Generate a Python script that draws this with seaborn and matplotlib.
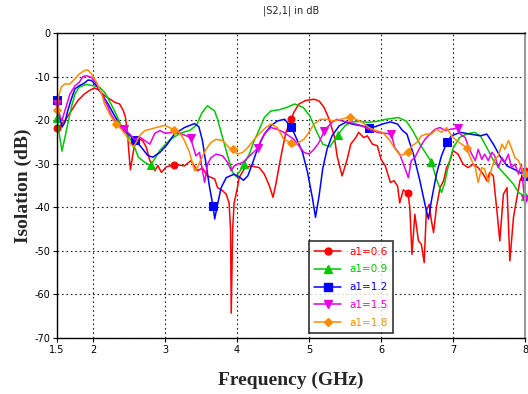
import numpy as np
import matplotlib
matplotlib.use("Agg")
import matplotlib.pyplot as plt
from matplotlib.lines import Line2D
import seaborn as sns

sns.set_theme(style="ticks")
plt.rcParams['font.family'] = ['DejaVu Sans']
plt.rcParams['axes.unicode_minus'] = False

# a1 = 0.6
freq_06 = [1.5, 1.55, 1.61, 1.70, 1.79, 1.88, 1.95, 2.02, 2.09, 2.16, 2.23, 2.30, 2.37, 2.42,
           2.45, 2.48, 2.50, 2.52, 2.57, 2.63, 2.69, 2.74, 2.79, 2.86, 2.90, 2.95, 3.02, 3.125,
           3.20, 3.27, 3.36, 3.45, 3.52, 3.59, 3.69, 3.73, 3.80, 3.85, 3.89, 3.91, 3.92, 3.94,
           3.96, 4.0, 4.03, 4.10, 4.19, 4.31, 4.38, 4.45, 4.50, 4.54, 4.59, 4.63, 4.68, 4.75,
           4.79, 4.86, 4.95, 5.07, 5.14, 5.21, 5.28, 5.35, 5.39, 5.46, 5.53, 5.58, 5.65, 5.69,
           5.76, 5.81, 5.88, 5.95, 6.0, 6.06, 6.13, 6.18, 6.23, 6.26, 6.31, 6.375, 6.40, 6.43,
           6.47, 6.52, 6.56, 6.60, 6.63, 6.67, 6.70, 6.73, 6.77, 6.82, 6.87, 6.91, 6.96, 7.0,
           7.07, 7.14, 7.21, 7.28, 7.35, 7.42, 7.47, 7.51, 7.56, 7.61, 7.65, 7.70, 7.75, 7.79,
           7.84, 7.88, 7.93, 8.0]
db_06 = [-21.9, -21.2, -20.1, -17.8, -15.5, -14.0, -13.2, -12.6, -13.2, -14.4, -15.1, -15.9, -16.3, -17.8,
         -19.3, -23.2, -27.7, -31.4, -26.2, -24.3, -24.7, -26.2, -29.3, -31.6, -30.4, -32.0, -30.7, -30.3,
         -30.3, -30.5, -29.3, -31.6, -31.0, -32.8, -33.5, -35.5, -36.2, -37.0, -39.0, -45.0, -64.3, -45.0,
         -39.0, -36.0, -33.2, -31.2, -30.5, -30.9, -32.4, -35.1, -37.7, -34.7, -30.1, -26.7, -22.8, -19.8,
         -18.2, -16.3, -15.5, -15.2, -15.6, -17.1, -19.8, -23.6, -28.2, -32.8, -29.0, -25.5, -24.0, -22.8,
         -24.0, -23.6, -25.5, -25.9, -29.0, -30.5, -34.3, -33.9, -35.1, -39.0, -36.0, -36.8, -40.0, -50.8,
         -41.6, -47.7, -48.5, -52.7, -40.8, -39.3, -43.1, -45.8, -40.0, -35.5, -33.9, -30.9, -29.3, -27.0,
         -27.8, -30.1, -30.9, -30.1, -30.9, -32.4, -33.9, -32.0, -32.8, -40.8, -47.7, -37.0, -35.5, -52.3,
         -42.3, -38.5, -33.9, -31.6]
marks_06 = [1.5, 3.125, 4.75, 6.375, 8.0]

# a1 = 0.9
freq_09 = [1.5, 1.53, 1.57, 1.63, 1.70, 1.75, 1.81, 1.91, 2.0, 2.09, 2.16, 2.25, 2.32, 2.39, 2.46,
           2.56, 2.63, 2.72, 2.8, 2.93, 3.07, 3.21, 3.35, 3.44, 3.51, 3.59, 3.69, 3.73, 3.80, 3.87,
           3.94, 3.99, 4.06, 4.1, 4.17, 4.24, 4.31, 4.38, 4.47, 4.59, 4.69, 4.80, 4.92, 5.01, 5.10,
           5.19, 5.29, 5.4, 5.50, 5.59, 5.70, 5.82, 5.94, 6.07, 6.24, 6.35, 6.44, 6.54, 6.63, 6.7,
           6.77, 6.84, 6.88, 6.93, 7.0, 7.09, 7.19, 7.30, 7.38, 7.46, 7.56, 7.65, 7.75, 7.84, 7.91, 8.0]
db_09 = [-19.5, -23.0, -27.1, -22.4, -17.0, -14.0, -12.4, -11.8, -12.1, -12.4, -13.6, -16.3, -18.6, -21.2, -22.8,
         -25.5, -28.5, -29.7, -30.4, -26.9, -24.5, -23.0, -22.3, -21.1, -18.4, -16.7, -17.9, -19.8, -24.0, -28.2,
         -32.0, -33.0, -31.2, -30.0, -27.8, -24.7, -22.1, -19.4, -17.9, -17.6, -17.1, -16.3, -17.1, -19.0, -22.4,
         -25.5, -26.1, -23.4, -21.3, -20.4, -20.3, -20.5, -20.3, -19.8, -19.4, -20.2, -22.4, -25.5, -27.8, -29.6,
         -33.5, -36.6, -34.7, -30.9, -26.5, -24.0, -23.2, -22.8, -23.6, -26.0, -29.2, -31.2, -33.0, -34.7, -36.6, -37.5]
marks_09 = [1.5, 2.8, 4.1, 5.4, 6.7, 8.0]

# a1 = 1.2
freq_12 = [1.5, 1.54, 1.57, 1.61, 1.65, 1.70, 1.75, 1.81, 1.88, 1.93, 1.98, 2.05, 2.12, 2.21, 2.30,
           2.39, 2.49, 2.5833, 2.67, 2.76, 2.83, 2.93, 3.02, 3.13, 3.27, 3.41, 3.47, 3.52, 3.57, 3.62,
           3.6667, 3.69, 3.73, 3.78, 3.85, 3.96, 4.03, 4.09, 4.15, 4.22, 4.29, 4.38, 4.47, 4.56, 4.66,
           4.75, 4.81, 4.91, 4.98, 5.05, 5.09, 5.14, 5.19, 5.25, 5.32, 5.42, 5.51, 5.60, 5.72, 5.8333,
           5.92, 6.02, 6.13, 6.23, 6.30, 6.36, 6.45, 6.54, 6.63, 6.66, 6.70, 6.77, 6.84, 6.9167, 6.98,
           7.10, 7.24, 7.38, 7.47, 7.56, 7.65, 7.75, 7.84, 7.93, 8.0]
db_12 = [-15.4, -19.3, -21.6, -20.5, -17.8, -15.1, -12.8, -12.1, -11.5, -10.8, -10.9, -12.1, -14.0, -16.3, -19.0,
         -21.6, -23.2, -24.5, -26.2, -28.1, -28.5, -27.4, -25.8, -23.2, -21.7, -20.8, -21.5, -24.7, -30.1, -35.5,
         -39.7, -42.7, -39.3, -35.5, -33.2, -32.4, -33.0, -33.8, -32.8, -29.7, -26.3, -23.2, -21.3, -20.2, -19.8,
         -21.5, -23.6, -27.4, -32.0, -38.1, -42.3, -37.4, -31.2, -26.7, -23.6, -21.3, -20.5, -20.9, -21.3, -21.7,
         -21.5, -20.9, -20.4, -20.9, -22.4, -23.2, -27.8, -33.9, -40.8, -42.7, -38.5, -32.4, -28.2, -25.0, -23.6,
         -22.8, -23.2, -23.6, -23.2, -25.5, -28.2, -30.5, -31.2, -32.0, -32.8]
marks_12 = [1.5, 2.5833, 3.6667, 4.75, 5.8333, 6.9167, 8.0]

# a1 = 1.5
freq_15 = [1.5, 1.54, 1.57, 1.61, 1.68, 1.75, 1.81, 1.86, 1.91, 1.98, 2.05, 2.12, 2.19, 2.25, 2.32,
           2.4286, 2.51, 2.58, 2.65, 2.72, 2.79, 2.86, 2.93, 3.0, 3.13, 3.22, 3.3571, 3.38, 3.43, 3.48,
           3.52, 3.55, 3.59, 3.64, 3.71, 3.80, 3.87, 3.92, 3.96, 4.01, 4.08, 4.15, 4.2857, 4.33, 4.40,
           4.47, 4.56, 4.65, 4.72, 4.79, 4.86, 4.93, 5.0, 5.07, 5.14, 5.2143, 5.25, 5.32, 5.39, 5.46,
           5.56, 5.65, 5.74, 5.83, 5.95, 6.1429, 6.19, 6.26, 6.33, 6.38, 6.42, 6.47, 6.54, 6.61, 6.68,
           6.75, 6.82, 6.89, 6.96, 7.0714, 7.10, 7.17, 7.21, 7.26, 7.31, 7.35, 7.40, 7.44, 7.49, 7.54,
           7.58, 7.63, 7.68, 7.72, 7.77, 7.81, 7.86, 7.91, 7.95, 7.98, 8.0]
db_15 = [-16.3, -19.3, -20.0, -17.8, -14.0, -12.1, -11.3, -10.0, -9.8, -10.2, -11.7, -14.0, -16.3, -18.6, -20.5,
         -22.0, -23.2, -24.5, -23.9, -24.7, -25.5, -23.0, -22.4, -23.0, -22.8, -23.1, -24.0, -25.5, -28.2, -27.4,
         -31.6, -34.3, -30.1, -28.6, -27.8, -28.2, -29.7, -31.6, -30.5, -30.1, -29.7, -28.6, -26.5, -24.7, -22.8,
         -21.7, -22.1, -22.8, -23.6, -24.4, -25.9, -27.4, -27.8, -26.7, -25.1, -22.4, -21.7, -20.5, -19.8, -20.2,
         -20.5, -20.9, -21.3, -22.1, -22.8, -23.2, -26.3, -27.8, -30.9, -33.2, -29.3, -28.6, -26.3, -24.4, -23.2,
         -22.1, -21.7, -22.4, -22.1, -21.8, -23.2, -24.0, -25.9, -27.8, -29.3, -26.7, -29.0, -27.8, -29.3, -27.4,
         -28.2, -30.9, -28.6, -29.7, -27.8, -30.9, -30.1, -32.4, -30.1, -36.0, -38.0]
marks_15 = [1.5, 2.4286, 3.3571, 4.2857, 5.2143, 6.1429, 7.0714, 8.0]

# a1 = 1.8
freq_18 = [1.5, 1.52, 1.56, 1.61, 1.68, 1.75, 1.81, 1.88, 1.93, 1.98, 2.05, 2.12, 2.16, 2.23, 2.3125,
           2.39, 2.46, 2.51, 2.56, 2.60, 2.65, 2.72, 2.81, 2.90, 3.0, 3.125, 3.20, 3.27, 3.34, 3.41,
           3.45, 3.50, 3.57, 3.64, 3.71, 3.80, 3.89, 3.9375, 4.01, 4.08, 4.15, 4.24, 4.33, 4.40, 4.47,
           4.56, 4.65, 4.75, 4.79, 4.86, 4.93, 5.0, 5.07, 5.16, 5.25, 5.35, 5.44, 5.5625, 5.65, 5.74,
           5.83, 5.93, 6.02, 6.11, 6.20, 6.27, 6.375, 6.43, 6.50, 6.56, 6.63, 6.70, 6.77, 6.84, 6.91,
           6.98, 7.05, 7.1875, 7.24, 7.31, 7.35, 7.40, 7.44, 7.49, 7.54, 7.58, 7.63, 7.68, 7.72, 7.77,
           7.81, 7.86, 7.91, 7.95, 8.0]
db_18 = [-17.7, -14.7, -12.4, -11.7, -11.7, -10.5, -9.4, -8.6, -8.5, -9.4, -11.3, -14.0, -16.3, -18.6, -20.8,
         -22.0, -23.5, -25.1, -26.2, -25.1, -23.5, -22.4, -22.0, -21.6, -21.2, -22.2, -22.8, -24.7, -27.4, -31.6,
         -30.9, -29.0, -26.7, -25.1, -24.4, -24.7, -26.3, -26.7, -27.8, -27.4, -26.3, -24.4, -22.8, -21.7, -20.9,
         -21.7, -24.4, -25.2, -25.9, -25.1, -24.4, -22.8, -20.9, -19.8, -19.8, -20.2, -19.8, -19.3, -19.8, -20.5,
         -21.7, -22.4, -22.8, -24.4, -26.7, -28.2, -27.4, -25.9, -25.1, -23.6, -23.2, -23.2, -22.1, -22.8, -21.7,
         -23.6, -24.7, -26.3, -28.6, -30.9, -34.3, -30.9, -31.2, -34.3, -30.9, -29.0, -28.2, -25.5, -26.7, -24.7,
         -26.3, -28.6, -29.3, -30.9, -32.4]
marks_18 = [1.5, 2.3125, 3.125, 3.9375, 4.75, 5.5625, 6.375, 7.1875, 8.0]

labels = ["a1=0.6", "a1=0.9", "a1=1.2", "a1=1.5", "a1=1.8"]
colors = ["#ff0000", "#00c800", "#0000ff", "#e600e6", "#ff8c00"]
markers = ["o", "^", "s", "v", "D"]
msizes = [5, 6, 6, 6, 4.5]

series = [(freq_06, db_06, marks_06), (freq_09, db_09, marks_09), (freq_12, db_12, marks_12),
          (freq_15, db_15, marks_15), (freq_18, db_18, marks_18)]

fig = plt.figure(figsize=(5.28, 3.94), dpi=100)
ax = fig.add_axes([57 / 528, 1 - 338 / 394, 468 / 528, 305 / 394])

handles = []
for (f, d, mk), lab, c, m, ms in zip(series, labels, colors, markers, msizes):
    f = np.array(f)
    # marker positions -> indices of the matching samples
    idx = [int(np.argmin(np.abs(f - v))) for v in mk]
    sns.lineplot(x=f, y=d, ax=ax, color=c, linewidth=1.1, marker=m, markersize=ms,
                 markeredgecolor=c, markevery=idx, sort=False, estimator=None,
                 clip_on=False)
    handles.append(Line2D([], [], color=c, linewidth=1.1, marker=m, markersize=ms,
                          markeredgecolor=c, label=lab))

ax.set_xlim(1.5, 8)
ax.set_ylim(-70, 0)
ax.set_xticks([1.5, 2, 3, 4, 5, 6, 7, 8])
ax.set_xticklabels(["1.5", "2", "3", "4", "5", "6", "7", "8"])
ax.set_yticks([0, -10, -20, -30, -40, -50, -60, -70])
ax.tick_params(labelsize=7, length=3, width=0.8, colors="black", pad=2)
ax.grid(True, color="#222222", linestyle=(0, (1.5, 2.5)), linewidth=0.8)

for s in ["left", "bottom", "top"]:
    ax.spines[s].set_color("black")
    ax.spines[s].set_linewidth(1.0)
ax.spines["right"].set_color("#999999")
ax.spines["right"].set_linewidth(1.5)

ax.set_title("|S2,1| in dB", fontsize=7, pad=14)
ax.set_xlabel("Frequency (GHz)", fontsize=14, fontweight="bold", family="Liberation Serif")
ax.set_ylabel("Isolation (dB)", fontsize=14, fontweight="bold", family="Liberation Serif")
ax.xaxis.set_label_coords(0.5, -0.112)
ax.yaxis.set_label_coords(-0.053, 0.5)

leg = ax.legend(handles=handles, loc="lower left", bbox_to_anchor=(0.538, 0.016),
                fontsize=7.5, frameon=True, fancybox=False, numpoints=1,
                handlelength=2.6, handletextpad=0.8, labelspacing=0.75,
                borderpad=0.5, borderaxespad=0)
leg.get_frame().set_edgecolor("black")
leg.get_frame().set_linewidth(1.2)
for t, c in zip(leg.get_texts(), colors):
    t.set_color(c)

fig.savefig("out.png", dpi=100)
